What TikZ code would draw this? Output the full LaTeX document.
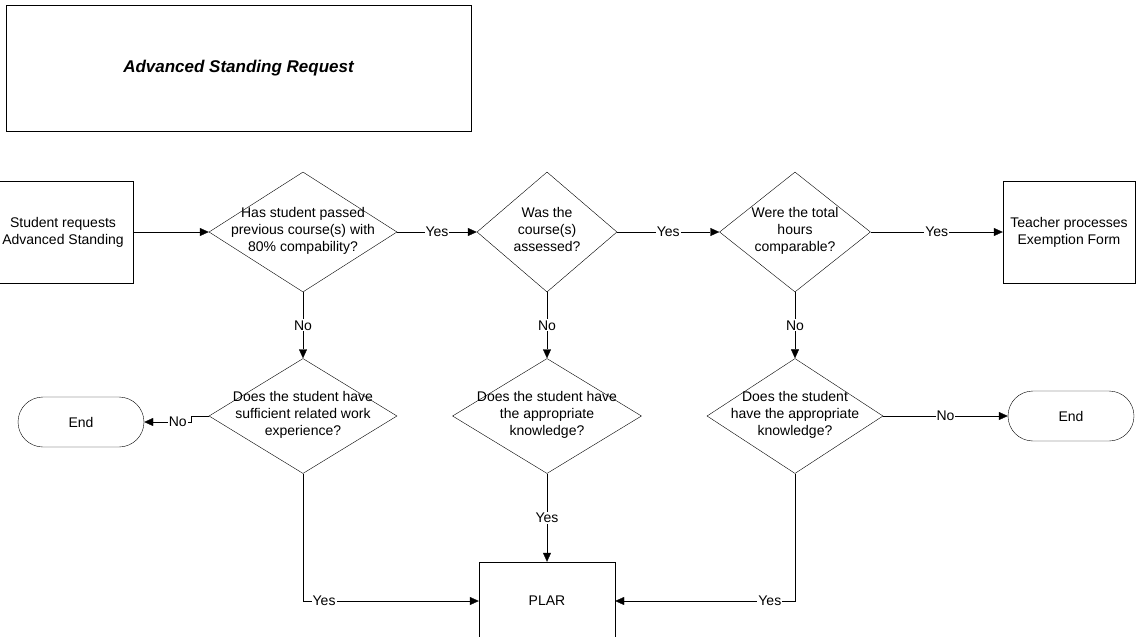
\documentclass[tikz,border=0pt]{standalone}
\usepackage{fontspec}
\setmainfont{Liberation Sans}
\usetikzlibrary{arrows.meta,positioning,shapes.geometric}
\newcommand{\ask}[1]{\smash{\makebox[0pt]{\raisebox{-3pt}{\begin{tabular}{@{}c@{}}#1\end{tabular}}}}}

\begin{document}
\begin{tikzpicture}[x=1pt,y=-1pt,on grid,>={Triangle[length=9pt,width=8pt]},
    every node/.style={font=\fontsize{14}{17}\selectfont},
    box/.style={draw,minimum width=132pt,minimum height=102pt,align=center},
    decision/.style={draw,diamond,inner sep=0pt},
    terminal/.style={draw,rounded corners=25pt,minimum width=126pt,minimum height=50pt},
    lbl/.style={fill=white,inner sep=1pt}]
        \clip (0,0) rectangle (1136,637);
        \node[draw,minimum width=465pt,minimum height=126pt,font=\fontsize{17}{20}\selectfont\bfseries\itshape] (title) at (238.5,68) {Advanced Standing Request};
        \node[box,minimum width=140pt] (start) at (63,232) {Student requests\\Advanced Standing};
        \node[decision,minimum width=188pt,minimum height=120pt] (passed) [right=240pt of start] {\ask{Has student passed\\previous course(s) with\\80\% compability?}};
        \node[decision,minimum width=140pt,minimum height=120pt] (assessed) [right=244pt of passed] {\ask{Was the\\course(s)\\assessed?}};
        \node[decision,minimum width=151pt,minimum height=120pt] (hours) [right=248pt of assessed] {\ask{Were the total\\hours\\comparable?}};
        \node[box] (teacher) [right=274pt of hours] {Teacher processes\\Exemption Form};
        \node[decision,minimum width=188pt,minimum height=115pt] (workexp) [below=184pt of passed] {\ask{Does the student have\\sufficient related work\\experience?}};
        \node[decision,minimum width=189pt,minimum height=115pt] (knowA) [below=184pt of assessed] {\ask{Does the student have\\the appropriate\\knowledge?}};
        \node[decision,minimum width=176pt,minimum height=115pt] (knowB) [below=184pt of hours] {\ask{Does the student\\have the appropriate\\knowledge?}};
        \node[terminal] (endA) [left=222pt of workexp,yshift=-6pt] {End};
        \node[terminal] (endB) [right=276pt of knowB] {End};
        \node[draw,minimum width=136pt,minimum height=78pt] (plar) [below=185pt of knowA] {PLAR};
        \draw[->] (start) -- (passed);
        \draw[->] (passed) -- node[lbl] {Yes} (assessed);
        \draw[->] (assessed) -- node[lbl] {Yes} (hours);
        \draw[->] (hours) -- node[lbl] {Yes} (teacher);
        \draw[->] (passed) -- node[lbl] {No} (workexp);
        \draw[->] (assessed) -- node[lbl] {No} (knowA);
        \draw[->] (hours) -- node[lbl] {No} (knowB);
        \draw[->] (workexp.west) -- ++(-18pt,0) |- node[lbl,pos=0.64] {No} (endA);
        \draw[->] (knowB) -- node[lbl] {No} (endB);
        \draw[->] (knowA) -- node[lbl] {Yes} (plar);
        \draw[->] (workexp) |- node[lbl,pos=0.56] {Yes} (plar);
        \draw[->] (knowB) |- node[lbl,pos=0.57] {Yes} (plar);
\end{tikzpicture}
\end{document}
